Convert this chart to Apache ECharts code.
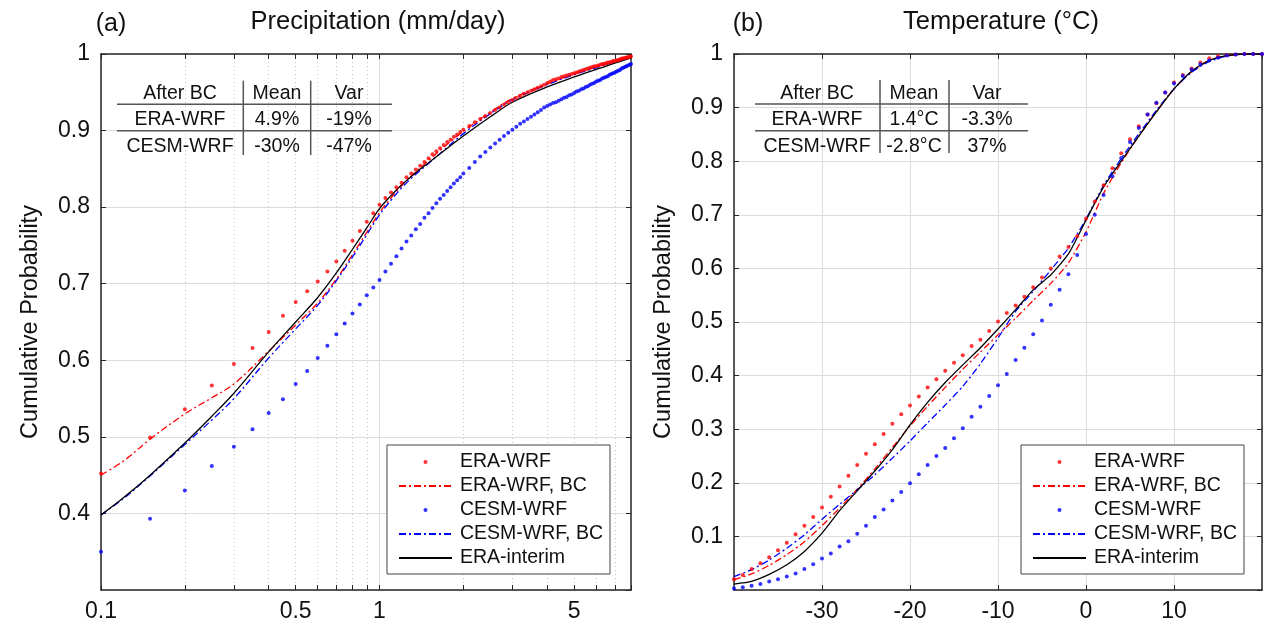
<!DOCTYPE html>
<html><head><meta charset="utf-8">
<script src="https://cdn.jsdelivr.net/npm/echarts@6/dist/echarts.min.js"></script>
<style>html,body{margin:0;padding:0;background:#fff}#c{width:1264px;height:628px}</style>
</head><body><div id="c"></div>
<script>
// ---------- Panel (a): precipitation (mm/day), log x ----------
const precipDotX = [0.1,0.15,0.2,0.25,0.3,0.35,0.4,0.45,0.5,0.55,0.6,0.65,0.7,0.75,0.8,0.85,0.9,0.95,1.0,
  1.05,1.1,1.15,1.2,1.25,1.3,1.35,1.4,1.45,1.5,1.55,1.6,1.65,1.7,1.75,1.8,1.85,1.9,1.95,2.0,
  2.1,2.2,2.3,2.4,2.5,2.6,2.7,2.8,2.9,3.0,3.1,3.2,3.3,3.4,3.5,3.6,3.7,3.8,3.9,4.0,
  4.1,4.2,4.3,4.4,4.5,4.6,4.7,4.8,4.9,5.0,5.1,5.2,5.3,5.4,5.5,5.6,5.7,5.8,5.9,6.0,
  6.1,6.2,6.3,6.4,6.5,6.6,6.7,6.8,6.9,7.0,7.1,7.2,7.3,7.4,7.5,7.6,7.7,7.8,7.9,8.0];
const eraWrfPrecip = [0.452,0.499,0.536,0.567,0.595,0.616,0.637,0.658,0.676,0.690,0.703,0.716,0.729,0.743,0.756,0.769,0.781,0.792,0.803,
  0.812,0.819,0.826,0.832,0.839,0.844,0.849,0.854,0.859,0.864,0.869,0.873,0.877,0.881,0.885,0.888,0.892,0.895,0.898,0.901,
  0.906,0.911,0.915,0.919,0.923,0.927,0.930,0.934,0.937,0.940,0.943,0.945,0.948,0.950,0.952,0.954,0.956,0.958,0.960,0.962,
  0.964,0.966,0.967,0.968,0.970,0.971,0.972,0.973,0.974,0.975,0.976,0.977,0.978,0.979,0.980,0.981,0.982,0.983,0.984,0.984,
  0.985,0.986,0.987,0.987,0.988,0.989,0.989,0.990,0.991,0.991,0.992,0.992,0.993,0.994,0.994,0.995,0.995,0.996,0.996,0.997];
const cesmWrfPrecip = [0.350,0.393,0.430,0.462,0.487,0.510,0.531,0.549,0.569,0.586,0.603,0.619,0.634,0.648,0.661,0.673,0.685,0.695,0.705,
  0.716,0.726,0.736,0.746,0.755,0.763,0.771,0.778,0.786,0.792,0.799,0.805,0.811,0.816,0.821,0.826,0.831,0.835,0.839,0.844,
  0.851,0.859,0.866,0.872,0.878,0.883,0.888,0.893,0.897,0.901,0.905,0.909,0.912,0.915,0.918,0.921,0.924,0.927,0.930,0.932,
  0.934,0.936,0.937,0.939,0.941,0.943,0.944,0.946,0.947,0.949,0.951,0.952,0.954,0.955,0.957,0.958,0.960,0.961,0.962,0.964,
  0.965,0.966,0.968,0.969,0.970,0.971,0.973,0.974,0.975,0.976,0.977,0.978,0.979,0.981,0.982,0.983,0.984,0.985,0.986,0.987];
const precipLineX = [0.1,0.12,0.15,0.2,0.25,0.3,0.4,0.5,0.6,0.7,0.8,0.9,1,1.1,1.2,1.35,1.5,1.75,2,2.5,3,4,5,6,7,8];
const eraBcPrecip = [0.450,0.468,0.497,0.530,0.551,0.569,0.612,0.646,0.675,0.706,0.738,0.767,0.793,0.812,0.828,0.846,0.861,0.882,0.899,0.924,0.942,0.961,0.974,0.983,0.990,0.997];
const cesmBcPrecip = [0.398,0.419,0.449,0.490,0.522,0.550,0.603,0.641,0.672,0.704,0.735,0.764,0.790,0.809,0.825,0.843,0.857,0.878,0.896,0.922,0.940,0.960,0.973,0.982,0.990,0.996];
const eraInterimPrecip = [0.398,0.420,0.450,0.492,0.527,0.557,0.611,0.650,0.682,0.714,0.745,0.773,0.798,0.815,0.829,0.845,0.858,0.877,0.893,0.918,0.937,0.957,0.970,0.980,0.988,0.995];
const precipTickValues = [0.1,0.2,0.3,0.4,0.5,0.6,0.7,0.8,0.9,1,2,3,4,5,6,7,8];
const precipLabelValues = [0.1,0.5,1,5];
const precipMajorValues = [0.1,1];

// ---------- Panel (b): temperature (°C) ----------
const tempDotX = [-40,-39,-38,-37,-36,-35,-34,-33,-32,-31,-30,-29,-28,-27,-26,-25,-24,-23,-22,-21,-20,
  -19,-18,-17,-16,-15,-14,-13,-12,-11,-10,-9,-8,-7,-6,-5,-4,-3,-2,-1,0,1,2,3,4,5,6,7,8,9,10,11,12,13,14,15,16,17,18,19,20];
const eraWrfTemp = [0.020,0.028,0.039,0.050,0.061,0.074,0.088,0.104,0.120,0.136,0.154,0.174,0.193,0.213,0.233,0.254,0.272,0.291,0.310,0.328,0.344,
  0.361,0.378,0.393,0.409,0.424,0.438,0.455,0.467,0.483,0.501,0.517,0.531,0.547,0.565,0.583,0.600,0.622,0.640,0.660,0.693,
  0.725,0.755,0.787,0.815,0.841,0.865,0.887,0.908,0.928,0.947,0.961,0.973,0.984,0.992,0.996,0.998,0.999,1.0,1.0,1.0];
const cesmWrfTemp = [0.003,0.005,0.008,0.011,0.016,0.020,0.025,0.031,0.039,0.048,0.059,0.068,0.081,0.091,0.105,0.120,0.136,0.150,0.167,0.183,0.199,
  0.216,0.233,0.250,0.265,0.283,0.302,0.323,0.342,0.362,0.382,0.403,0.429,0.452,0.477,0.503,0.532,0.560,0.589,0.625,0.664,
  0.700,0.737,0.772,0.806,0.836,0.862,0.887,0.909,0.928,0.945,0.959,0.971,0.981,0.988,0.993,0.997,0.999,1.0,1.0,1.0];
const tempLineX = [-40,-38,-36,-34,-32,-30,-28,-26,-24,-22,-20,-18,-16,-14,-12,-10,-8,-6,-4,-2,0,2,4,6,8,10,12,14,16,18,20];
const eraBcTemp = [0.019,0.030,0.046,0.066,0.090,0.120,0.153,0.188,0.226,0.266,0.306,0.343,0.378,0.412,0.444,0.476,0.507,0.540,0.572,0.610,0.668,0.740,0.797,0.847,0.893,0.935,0.967,0.988,0.997,1.0,1.0];
const cesmBcTemp = [0.025,0.038,0.056,0.078,0.103,0.132,0.160,0.187,0.215,0.246,0.278,0.312,0.345,0.380,0.422,0.470,0.520,0.557,0.597,0.638,0.692,0.755,0.805,0.851,0.895,0.935,0.966,0.986,0.996,1.0,1.0];
const eraInterimTemp = [0.011,0.016,0.029,0.047,0.072,0.106,0.148,0.185,0.222,0.262,0.308,0.350,0.387,0.420,0.452,0.487,0.523,0.560,0.588,0.627,0.690,0.752,0.800,0.847,0.892,0.935,0.968,0.988,0.997,1.0,1.0];

const seriesNames = ['ERA-WRF','ERA-WRF, BC','CESM-WRF','CESM-WRF, BC','ERA-interim'];
const tableHeader = ['After BC','Mean','Var'];
const precipTable = [['ERA-WRF','4.9%','-19%'],['CESM-WRF','-30%','-47%']];
const tempTable = [['ERA-WRF','1.4°C','-3.3%'],['CESM-WRF','-2.8°C','37%']];

const FONT = '"Liberation Sans", Arial, Helvetica, sans-serif';
const zip = (xs, ys) => xs.map((x, i) => [x, ys[i]]);
const fmt = v => String(+Number(v).toPrecision(6));
const AX = {color:'#262626', width:1.5};
const DASHDOT = [7,3,2,3];

const chart = echarts.init(document.getElementById('c'));

function edgeAxis(extra) {
  return Object.assign({
    axisLine:{show:true, onZero:false, lineStyle:AX},
    axisTick:{show:true, inside:true, length:5, lineStyle:{color:'#262626', width:1}},
    axisLabel:{show:false},
    splitLine:{show:false}
  }, extra);
}
const tickLabel = {fontSize:23, color:'#111', fontFamily:FONT};

const xAxis = [
  edgeAxis({gridIndex:0, type:'log', logBase:10, min:0.1, max:8, position:'bottom',
    axisTick:{show:true, inside:true, length:5, lineStyle:{color:'#262626'}, customValues:precipTickValues},
    axisLabel:Object.assign({show:true, margin:10, customValues:precipLabelValues, formatter:fmt}, tickLabel),
    splitLine:{show:true, lineStyle:{color:'#c4c4c4', type:[1,3], width:1}}}),
  edgeAxis({gridIndex:0, type:'log', logBase:10, min:0.1, max:8, position:'top',
    axisTick:{show:true, inside:true, length:5, lineStyle:{color:'#262626'}, customValues:precipTickValues}}),
  {gridIndex:0, type:'log', logBase:10, min:0.1, max:8, position:'bottom',
    axisLine:{show:false}, axisLabel:{show:false},
    axisTick:{show:false, customValues:precipMajorValues},
    splitLine:{show:true, lineStyle:{color:'#dcdcdc', width:1}}},
  edgeAxis({gridIndex:1, type:'value', min:-40, max:20, interval:10, position:'bottom',
    axisLabel:Object.assign({show:true, margin:10, showMinLabel:false, showMaxLabel:false, formatter:fmt}, tickLabel),
    splitLine:{show:true, lineStyle:{color:'#dcdcdc', width:1}}}),
  edgeAxis({gridIndex:1, type:'value', min:-40, max:20, interval:10, position:'top'})
];
const yAxis = [
  edgeAxis({gridIndex:0, type:'value', min:0.3, max:1, interval:0.1, position:'left',
    axisLabel:Object.assign({show:true, margin:11, showMinLabel:false, formatter:fmt}, tickLabel),
    splitLine:{show:true, lineStyle:{color:'#dcdcdc', width:1}}}),
  edgeAxis({gridIndex:0, type:'value', min:0.3, max:1, interval:0.1, position:'right'}),
  edgeAxis({gridIndex:1, type:'value', min:0, max:1, interval:0.1, position:'left',
    axisLabel:Object.assign({show:true, margin:11, showMinLabel:false, formatter:fmt}, tickLabel),
    splitLine:{show:true, lineStyle:{color:'#dcdcdc', width:1}}}),
  edgeAxis({gridIndex:1, type:'value', min:0, max:1, interval:0.1, position:'right'})
];

function panelSeries(xi, yi, dotX, eraDots, cesmDots, lineX, eraBc, cesmBc, eraI, smooth) {
  const dot = (name, data, color) => ({name, type:'scatter', xAxisIndex:xi, yAxisIndex:yi, data:zip(dotX, data),
    symbol:'circle', symbolSize:4, itemStyle:{color}, silent:true, z:3});
  const line = (name, data, color, type) => ({name, type:'line', xAxisIndex:xi, yAxisIndex:yi, data:zip(lineX, data),
    symbol:'none', showSymbol:false, smooth, lineStyle:{color, width:1.3, type}, itemStyle:{color}, silent:true, z:3});
  return [
    dot('ERA-WRF', eraDots, '#ff0000'),
    line('ERA-WRF, BC', eraBc, '#ff0000', DASHDOT),
    dot('CESM-WRF', cesmDots, '#0000ff'),
    line('CESM-WRF, BC', cesmBc, '#0000ff', DASHDOT),
    line('ERA-interim', eraI, '#000000', 'solid')
  ];
}

const series = [].concat(
  panelSeries(0, 0, precipDotX, eraWrfPrecip, cesmWrfPrecip, precipLineX, eraBcPrecip, cesmBcPrecip, eraInterimPrecip, 0.35),
  panelSeries(3, 2, tempDotX, eraWrfTemp, cesmWrfTemp, tempLineX, eraBcTemp, cesmBcTemp, eraInterimTemp, 0.2)
);

function legendAt(left) {
  return {left, top:445, orient:'vertical', selectedMode:false,
    padding:[7,7,6,11], itemGap:4, itemWidth:53, itemHeight:4,
    borderColor:'#444', borderWidth:1, backgroundColor:'#ffffff',
    textStyle:{fontSize:19.5, color:'#111', fontFamily:FONT, padding:[0,0,0,3]},
    data:seriesNames.map(n => (n === 'ERA-WRF' || n === 'CESM-WRF')
      ? {name:n, icon:'circle'}
      : {name:n, itemStyle:{opacity:0}})};
}

function tableGraphics(x0, x1, colX, vx, yTop, yBot, hy, rowY, header, rows) {
  const g = [];
  const ls = {stroke:'#555', lineWidth:1.5};
  hy.forEach(y => g.push({type:'line', shape:{x1:x0, y1:y, x2:x1, y2:y}, style:ls, z:5}));
  vx.forEach(x => g.push({type:'line', shape:{x1:x, y1:yTop, x2:x, y2:yBot}, style:ls, z:5}));
  const all = [header].concat(rows);
  all.forEach((r, ri) => r.forEach((t, ci) => g.push({type:'text', x:colX[ci], y:rowY[ri], z:5,
    style:{text:t, fill:'#111', font:'19.5px ' + FONT, textAlign:'center', textVerticalAlign:'middle'}})));
  return g;
}

const txt = (t, x, y, size, rot) => ({type:'text', x, y, rotation:rot || 0, z:5,
  style:{text:t, fill:'#111', font:size + 'px ' + FONT, textAlign:'center', textVerticalAlign:'middle'}});

const graphic = [].concat(
  [txt('(a)', 111, 24, 25), txt('Precipitation (mm/day)', 378, 22, 25.5),
   txt('(b)', 748, 24, 25), txt('Temperature (°C)', 1001, 22, 25.5),
   txt('Cumulative Probability', 31, 322, 23.5, Math.PI/2),
   txt('Cumulative Probability', 664, 322, 23.5, Math.PI/2)],
  tableGraphics(117, 392, [180, 277, 349], [243.3, 310.7], 80.7, 155, [104.3, 130.7], [93.3, 120, 146.3], tableHeader, precipTable),
  tableGraphics(755, 1028, [817, 914, 987], [880, 949], 80, 153, [104, 130.7], [93.3, 120, 146.3], tableHeader, tempTable)
);

chart.setOption({
  animation:false,
  backgroundColor:'#ffffff',
  textStyle:{fontFamily:FONT},
  grid:[{left:101, top:54, width:530, height:536}, {left:734, top:54, width:528, height:536}],
  xAxis, yAxis,
  legend:[legendAt(387), legendAt(1021)],
  series,
  graphic
});
</script></body></html>
